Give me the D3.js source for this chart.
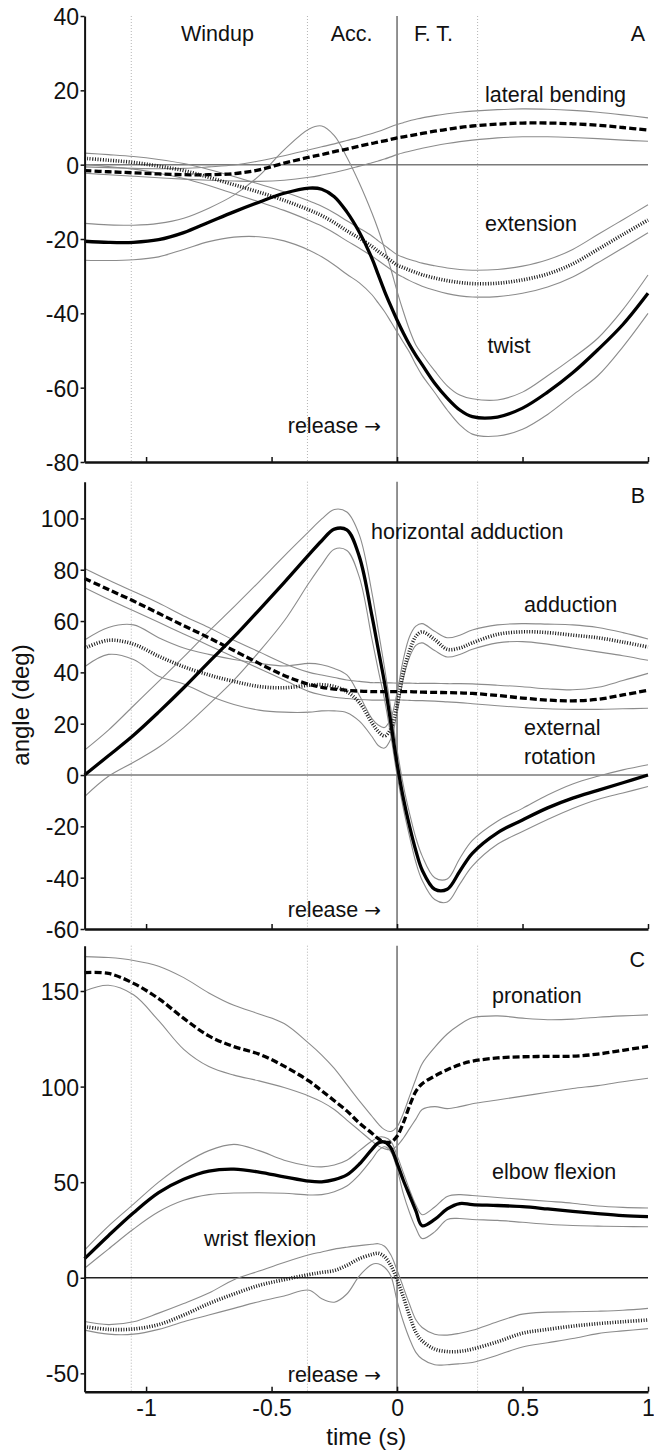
<!DOCTYPE html>
<html>
<head>
<meta charset="utf-8">
<script src="https://cdn.jsdelivr.net/npm/d3@7"></script>
<style>
  html, body { margin: 0; padding: 0; background: #fff; }
  svg { display: block; }
</style>
</head>
<body>
<svg id="chart" width="654" height="1452"></svg>
<script>
// Sample times (s) relative to ball release
const time = [-1.245, -1.15, -1.05, -0.95, -0.85, -0.75, -0.65, -0.55, -0.45, -0.35, -0.3, -0.25, -0.2, -0.15, -0.1, -0.075, -0.05, -0.025,
              0, 0.025, 0.05, 0.075, 0.1, 0.15, 0.2, 0.25, 0.3, 0.4, 0.5, 0.6, 0.7, 0.8, 0.9, 1.0];

// Phase boundaries (windup / acceleration / follow-through)
const phaseBounds = [-1.059, -0.357, 0.321];
const timeTicks = [-1, -0.5, 0, 0.5, 1];

// ---- A: trunk ----
const lateralBending   = [-1.6, -1.9, -2.2, -2.5, -2.7, -2.7, -2.4, -1.4, 0.4, 2.0, 2.7, 3.5, 4.2, 5.0, 5.7, 6.1, 6.4, 6.8, 7.2, 7.5, 7.8, 8.1, 8.4, 9.0, 9.5, 10.0, 10.4, 10.9, 11.2, 11.2, 11.0, 10.6, 10.0, 9.3];
const lateralBendingHi = [-0.6, -0.8, -1.0, -1.1, -1.0, -0.6, -0.1, 1.0, 2.4, 4.0, 4.8, 5.6, 6.5, 7.4, 8.4, 8.9, 9.5, 10.2, 10.8, 11.3, 11.8, 12.2, 12.6, 13.2, 13.7, 14.1, 14.4, 14.8, 15.0, 14.9, 14.6, 14.1, 13.4, 12.6];
const lateralBendingLo = [-2.3, -2.7, -3.1, -3.5, -3.9, -4.2, -4.4, -4.5, -4.2, -3.4, -2.8, -2.1, -1.3, -0.4, 0.5, 1.0, 1.5, 2.1, 2.7, 3.2, 3.6, 4.0, 4.4, 5.1, 5.7, 6.2, 6.6, 7.2, 7.5, 7.5, 7.3, 7.0, 6.6, 6.3];

const extension   = [1.7, 1.2, 0.6, -0.4, -1.6, -3.4, -5.4, -7.4, -9.6, -12.2, -13.7, -15.6, -17.8, -19.8, -22.0, -23.3, -24.5, -25.8, -27.0, -27.7, -28.4, -29.0, -29.6, -30.5, -31.2, -31.7, -32.0, -31.9, -31.0, -29.4, -26.7, -22.8, -18.8, -14.9];
const extensionHi = [3.1, 2.7, 2.2, 1.4, 0.3, -1.3, -3.2, -5.2, -7.3, -9.8, -11.2, -13.0, -15.1, -17.1, -19.2, -20.5, -21.7, -23.0, -24.2, -24.9, -25.5, -26.0, -26.5, -27.2, -27.8, -28.2, -28.4, -28.2, -27.3, -25.6, -22.8, -18.8, -14.8, -10.8];
const extensionLo = [0.0, -0.5, -1.2, -2.3, -3.7, -5.6, -7.8, -10.0, -12.3, -15.0, -16.5, -18.4, -20.5, -22.5, -24.6, -25.8, -27.0, -28.2, -29.4, -30.3, -31.2, -32.0, -32.7, -33.8, -34.7, -35.3, -35.6, -35.5, -34.6, -32.9, -30.2, -26.4, -22.4, -18.3];

const twist   = [-20.6, -20.9, -20.9, -20.2, -18.3, -15.5, -12.7, -10.1, -7.7, -6.3, -6.6, -8.6, -12.7, -18.2, -25.2, -29.6, -34.0, -38.0, -41.8, -45.3, -48.5, -51.3, -53.8, -58.8, -62.8, -66.0, -67.8, -67.9, -65.5, -61.2, -56.0, -49.8, -43.0, -34.6];
const twistHi = [-15.8, -16.2, -16.3, -15.8, -14.4, -11.7, -8.2, -3.0, 4.0, 9.6, 10.4, 7.8, 2.0, -5.0, -13.0, -17.5, -22.5, -28.0, -34.0, -39.5, -44.5, -48.5, -51.0, -55.5, -59.5, -62.0, -63.0, -63.3, -61.2, -56.8, -52.0, -46.7, -39.0, -29.7];
const twistLo = [-25.7, -25.8, -25.6, -24.8, -22.8, -20.7, -19.5, -19.4, -20.5, -23.0, -24.8, -27.0, -29.5, -31.8, -35.0, -37.2, -39.5, -42.2, -45.0, -47.8, -50.5, -53.8, -56.7, -61.3, -66.0, -70.0, -72.5, -73.0, -71.2, -67.2, -62.0, -56.8, -49.0, -40.0];

// ---- B: shoulder ----
const horizAdduction   = [0.0, 7.5, 15.5, 24.5, 34.0, 44.0, 53.8, 64.3, 75.0, 86.0, 91.3, 95.8, 95.5, 85.0, 62.0, 49.0, 36.0, 20.5, 4.5, -9.0, -20.0, -29.5, -37.0, -44.5, -44.5, -37.5, -30.5, -22.5, -17.5, -12.8, -9.0, -6.0, -3.0, 0.0];
const horizAdductionHi = [9.7, 17.5, 27.0, 36.5, 46.0, 56.0, 65.5, 75.3, 85.3, 95.0, 99.8, 103.5, 102.5, 93.5, 71.0, 56.5, 42.0, 26.0, 10.0, -4.0, -15.0, -24.5, -31.5, -40.0, -40.5, -32.5, -25.5, -18.0, -13.0, -7.8, -3.5, -0.5, 2.0, 4.0];
const horizAdductionLo = [-8.4, -0.5, 5.0, 10.8, 18.5, 27.5, 37.0, 48.0, 60.0, 75.0, 82.0, 88.0, 87.5, 77.0, 53.0, 41.0, 29.5, 15.5, 0.0, -13.0, -24.0, -34.0, -41.0, -48.5, -49.5, -42.5, -35.5, -27.0, -22.0, -17.3, -13.0, -9.5, -7.0, -4.5];

const adduction   = [49.4, 52.5, 51.0, 46.3, 42.2, 39.0, 36.5, 34.5, 34.0, 35.0, 35.2, 34.5, 32.5, 28.2, 20.3, 17.0, 15.2, 18.0, 27.0, 40.0, 48.5, 54.0, 55.8, 52.8, 49.0, 49.5, 51.5, 54.8, 55.8, 55.5, 54.5, 53.5, 51.8, 49.9];
const adductionHi = [52.6, 57.5, 58.5, 53.5, 49.5, 47.0, 45.0, 43.5, 42.5, 43.5, 43.0, 41.5, 39.0, 31.0, 22.0, 19.5, 18.5, 22.0, 32.0, 45.0, 54.0, 58.0, 59.0, 56.0, 53.5, 54.5, 56.5, 58.5, 59.0, 58.8, 58.5, 57.5, 55.5, 53.0];
const adductionLo = [42.2, 47.0, 45.0, 38.5, 35.5, 31.0, 27.5, 25.3, 24.5, 24.5, 25.0, 25.0, 24.3, 21.0, 15.0, 11.5, 10.5, 14.0, 24.0, 37.5, 46.0, 50.5, 51.5, 48.5, 46.0, 47.0, 49.0, 51.5, 52.0, 51.0, 49.5, 48.0, 46.5, 44.7];

const extRotation   = [76.6, 72.3, 67.8, 63.0, 58.2, 53.5, 48.5, 43.5, 38.8, 35.3, 34.2, 33.5, 33.0, 32.7, 32.5, 32.5, 32.5, 32.5, 32.5, 32.5, 32.5, 32.4, 32.3, 32.2, 32.1, 32.0, 31.8, 31.0, 30.0, 29.2, 28.9, 29.5, 31.2, 33.0];
const extRotationHi = [80.5, 76.0, 71.5, 67.0, 62.0, 57.5, 52.5, 48.0, 43.5, 40.0, 39.0, 38.0, 37.0, 36.5, 36.0, 36.0, 35.9, 35.9, 35.8, 35.8, 35.8, 35.7, 35.7, 35.7, 35.6, 35.6, 35.5, 35.0, 34.4, 33.6, 33.2, 34.2, 36.8, 39.6];
const extRotationLo = [73.0, 68.5, 64.0, 59.5, 55.0, 50.5, 46.0, 41.5, 37.0, 32.5, 31.2, 30.3, 29.8, 29.4, 29.2, 29.2, 29.2, 29.2, 29.2, 29.2, 29.1, 29.0, 29.0, 28.8, 28.5, 28.2, 27.8, 27.0, 26.3, 25.8, 25.6, 25.6, 25.8, 26.0];

// ---- C: elbow / forearm / wrist ----
const pronation   = [159.6, 159.2, 154.0, 146.0, 135.7, 126.5, 120.9, 117.0, 110.7, 102.8, 97.8, 92.6, 87.3, 80.9, 75.6, 72.8, 71.0, 71.0, 74.0, 81.0, 90.0, 97.5, 101.5, 105.5, 108.8, 111.5, 113.3, 115.0, 115.6, 115.8, 115.9, 117.0, 119.0, 121.0];
const pronationHi = [168.0, 167.5, 166.0, 163.0, 157.0, 149.0, 142.5, 138.0, 133.0, 122.5, 116.5, 109.5, 101.0, 92.5, 84.5, 80.5, 77.5, 76.5, 79.0, 86.0, 95.0, 104.0, 112.0, 120.5, 127.5, 132.5, 136.0, 137.0, 135.8, 135.0, 135.3, 136.3, 137.0, 137.5];
const pronationLo = [150.0, 153.0, 148.0, 134.5, 119.5, 110.5, 106.0, 103.0, 99.5, 95.0, 92.0, 88.0, 82.5, 77.0, 71.5, 69.0, 67.5, 67.0, 69.0, 73.0, 78.0, 83.0, 88.0, 89.5, 88.5, 89.5, 91.0, 93.0, 95.0, 97.0, 99.0, 100.5, 102.5, 104.4];

const elbowFlexion   = [10.0, 22.0, 34.0, 44.5, 51.5, 55.8, 56.8, 55.3, 52.8, 50.5, 50.2, 51.3, 53.8, 59.5, 67.2, 70.5, 71.0, 68.0, 60.0, 51.0, 43.0, 35.0, 27.2, 30.5, 36.0, 38.8, 38.3, 37.8, 37.2, 36.0, 34.7, 33.5, 32.5, 32.0];
const elbowFlexionHi = [14.5, 27.0, 38.5, 50.0, 59.5, 66.5, 69.8, 66.5, 61.5, 58.5, 58.0, 59.0, 61.5, 66.5, 71.5, 73.5, 73.5, 71.5, 64.0, 55.0, 46.0, 38.0, 33.0, 37.0, 42.5, 43.5, 43.0, 42.0, 41.0, 40.0, 39.0, 37.5, 36.8, 36.5];
const elbowFlexionLo = [5.0, 15.0, 25.5, 34.5, 40.5, 43.5, 44.3, 44.5, 44.2, 43.3, 43.5, 45.0, 48.0, 54.0, 62.0, 66.5, 68.5, 66.0, 57.0, 44.0, 34.0, 26.0, 20.5, 24.0, 30.5, 31.0, 30.5, 30.0, 29.0, 28.0, 27.3, 27.0, 26.8, 26.7];

const wristFlexion   = [-25.6, -27.0, -26.8, -24.5, -19.5, -13.5, -8.5, -4.0, -1.0, 1.7, 2.8, 3.8, 6.5, 10.0, 12.2, 12.8, 11.0, 6.5, -1.0, -10.0, -20.0, -28.5, -33.0, -37.3, -38.6, -38.5, -37.3, -33.5, -29.0, -27.0, -25.3, -24.0, -23.0, -22.1];
const wristFlexionHi = [-22.9, -24.5, -23.0, -18.5, -13.5, -8.0, -1.0, 3.5, 8.0, 12.0, 13.5, 15.0, 16.0, 16.8, 17.5, 17.8, 16.5, 12.0, 4.0, -5.0, -14.0, -22.0, -26.0, -29.5, -30.0, -29.0, -27.5, -23.0, -19.0, -18.0, -17.8, -17.5, -17.0, -16.0];
const wristFlexionLo = [-27.4, -29.5, -29.5, -27.0, -23.0, -19.5, -16.0, -12.5, -9.5, -6.5, -11.0, -12.8, -8.5, 1.0, 7.0, 7.3, 5.5, 1.0, -12.0, -23.0, -32.0, -39.0, -42.5, -45.5, -45.5, -45.0, -44.3, -40.5, -36.2, -34.0, -31.8, -29.2, -27.8, -26.6];

// Tick values per panel
const ticksA = [-80, -60, -40, -20, 0, 20, 40];
const ticksB = [-60, -40, -20, 0, 20, 40, 60, 80, 100];
const ticksC = [-50, 0, 50, 100, 150];

// ------------------------------------------------------------------
const FONT = "'Liberation Sans', Arial, Helvetica, sans-serif";
const svg = d3.select("#chart");

const xLeft = 84.6, xRight = 648;
const x = d3.scaleLinear().domain([-1.245, 1]).range([xLeft, xRight]);

const panels = [
  {
    top: 16, bottom: 462, domain: [-80, 40], ticks: ticksA, zeroColor: "#7a7a7a",
    bands: [[lateralBendingHi, lateralBendingLo], [extensionHi, extensionLo], [twistHi, twistLo]],
    means: [[lateralBending, "dashed"], [extension, "dotted"], [twist, "solid"]],
    labels: [
      ["Windup", 217.5, 40.7, "middle"], ["Acc.", 351.7, 40.7, "middle"], ["F. T.", 414, 40.7, "start"],
      ["A", 645, 40.7, "end"], ["lateral bending", 485, 102, "start"], ["extension", 485, 230.7, "start"],
      ["twist", 487.5, 352.7, "start"]
    ],
    release: 433.3
  },
  {
    top: 481.7, bottom: 929, domain: [-60, 114.3], ticks: ticksB, zeroColor: "#7a7a7a",
    bands: [[extRotationHi, extRotationLo], [adductionHi, adductionLo], [horizAdductionHi, horizAdductionLo]],
    means: [[extRotation, "dashed"], [adduction, "dotted"], [horizAdduction, "solid"]],
    labels: [
      ["B", 645, 503.3, "end"], ["horizontal adduction", 371, 539, "start"], ["adduction", 524, 611.7, "start"],
      ["external", 524, 735, "start"], ["rotation", 524, 764, "start"]
    ],
    release: 916.7
  },
  {
    top: 945.7, bottom: 1391.7, domain: [-59.6, 173.7], ticks: ticksC, zeroColor: "#222",
    bands: [[pronationHi, pronationLo], [elbowFlexionHi, elbowFlexionLo], [wristFlexionHi, wristFlexionLo]],
    means: [[pronation, "dashed"], [wristFlexion, "dotted"], [elbowFlexion, "solid"]],
    labels: [
      ["C", 645, 966.7, "end"], ["pronation", 492, 1002.7, "start"], ["elbow flexion", 492, 1179.3, "start"],
      ["wrist flexion", 204, 1245.7, "start"]
    ],
    release: 1381.7,
    xLabels: true
  }
];

const meanStyle = {
  solid:  { stroke: "#000", width: 3.3, dash: null },
  dashed: { stroke: "#000", width: 3.3, dash: "7,3" },
  dotted: { stroke: "#1a1a1a", width: 3.6, dash: "1,1.6" }
};

panels.forEach(p => {
  const y = d3.scaleLinear().domain(p.domain).range([p.bottom, p.top]);
  const g = svg.append("g");

  const line = d3.line()
    .x((d, i) => x(time[i]))
    .y(d => y(d))
    .curve(d3.curveCatmullRom.alpha(0.5));

  // phase boundary markers
  g.selectAll(".phase").data(phaseBounds).join("line")
    .attr("x1", d => x(d)).attr("x2", d => x(d))
    .attr("y1", p.top).attr("y2", p.bottom)
    .attr("stroke", "#b4b4b4").attr("stroke-width", 1)
    .attr("stroke-dasharray", "1,2");

  // zero reference
  g.append("line")
    .attr("x1", xLeft).attr("x2", xRight)
    .attr("y1", y(0)).attr("y2", y(0))
    .attr("stroke", p.zeroColor).attr("stroke-width", 1.5);

  // release instant
  g.append("line")
    .attr("x1", x(0)).attr("x2", x(0))
    .attr("y1", p.top).attr("y2", p.bottom)
    .attr("stroke", "#6e6e6e").attr("stroke-width", 1.5);

  // standard-deviation bands
  p.bands.forEach(([hi, lo]) => {
    [hi, lo].forEach(arr => {
      g.append("path").datum(arr)
        .attr("d", line)
        .attr("fill", "none")
        .attr("stroke", "#8c8c8c")
        .attr("stroke-width", 1.1);
    });
  });

  // mean curves
  p.means.forEach(([arr, kind]) => {
    const s = meanStyle[kind];
    g.append("path").datum(arr)
      .attr("d", line)
      .attr("fill", "none")
      .attr("stroke", s.stroke)
      .attr("stroke-width", s.width)
      .attr("stroke-linejoin", "round")
      .attr("stroke-dasharray", s.dash);
  });

  // y axis
  const yAxis = d3.axisLeft(y).tickValues(p.ticks).tickSize(4).tickSizeOuter(0)
    .tickPadding(1.5).tickFormat(d => String(d));
  const ya = g.append("g").attr("transform", `translate(${xLeft},0)`).call(yAxis);
  ya.select(".domain").attr("stroke", "#111").attr("stroke-width", 2);
  ya.selectAll(".tick line").attr("stroke", "#111").attr("stroke-width", 1.5);
  ya.selectAll(".tick text")
    .attr("font-family", FONT).attr("font-size", 23).attr("fill", "#111")
    .attr("dy", "0.37em");
  ya.attr("font-size", null).attr("font-family", null);

  // x axis (inward ticks)
  const xAxis = d3.axisBottom(x).tickValues(timeTicks).tickSize(-5).tickSizeOuter(0)
    .tickPadding(8).tickFormat(p.xLabels ? (d => String(d)) : (() => ""));
  const xa = g.append("g").attr("transform", `translate(0,${p.bottom})`).call(xAxis);
  xa.select(".domain").attr("stroke", "#111").attr("stroke-width", 2.4);
  xa.selectAll(".tick line").attr("stroke", "#111").attr("stroke-width", 1.5);
  xa.selectAll(".tick text")
    .attr("font-family", FONT).attr("font-size", 23).attr("fill", "#111");
  xa.attr("font-size", null).attr("font-family", null);

  // annotations
  g.selectAll(".lbl").data(p.labels).join("text")
    .attr("x", d => d[1]).attr("y", d => d[2])
    .attr("text-anchor", d => d[3])
    .attr("font-family", FONT).attr("font-size", 21.5).attr("fill", "#111")
    .text(d => d[0]);

  // release marker text with arrow
  const rel = g.append("text")
    .attr("x", 381).attr("y", p.release)
    .attr("text-anchor", "end")
    .attr("font-family", FONT).attr("font-size", 21.5).attr("fill", "#111");
  rel.append("tspan").text("release ");
  rel.append("tspan").attr("font-family", "'DejaVu Sans', sans-serif").attr("font-size", 20).text("\u2192");
});

// axis titles
svg.append("text")
  .attr("x", (xLeft + xRight) / 2).attr("y", 1445)
  .attr("text-anchor", "middle")
  .attr("font-family", FONT).attr("font-size", 24).attr("fill", "#111")
  .text("time (s)");

svg.append("text")
  .attr("transform", "translate(29,705) rotate(-90)")
  .attr("text-anchor", "middle")
  .attr("font-family", FONT).attr("font-size", 24).attr("fill", "#111")
  .text("angle (deg)");
</script>
</body>
</html>
